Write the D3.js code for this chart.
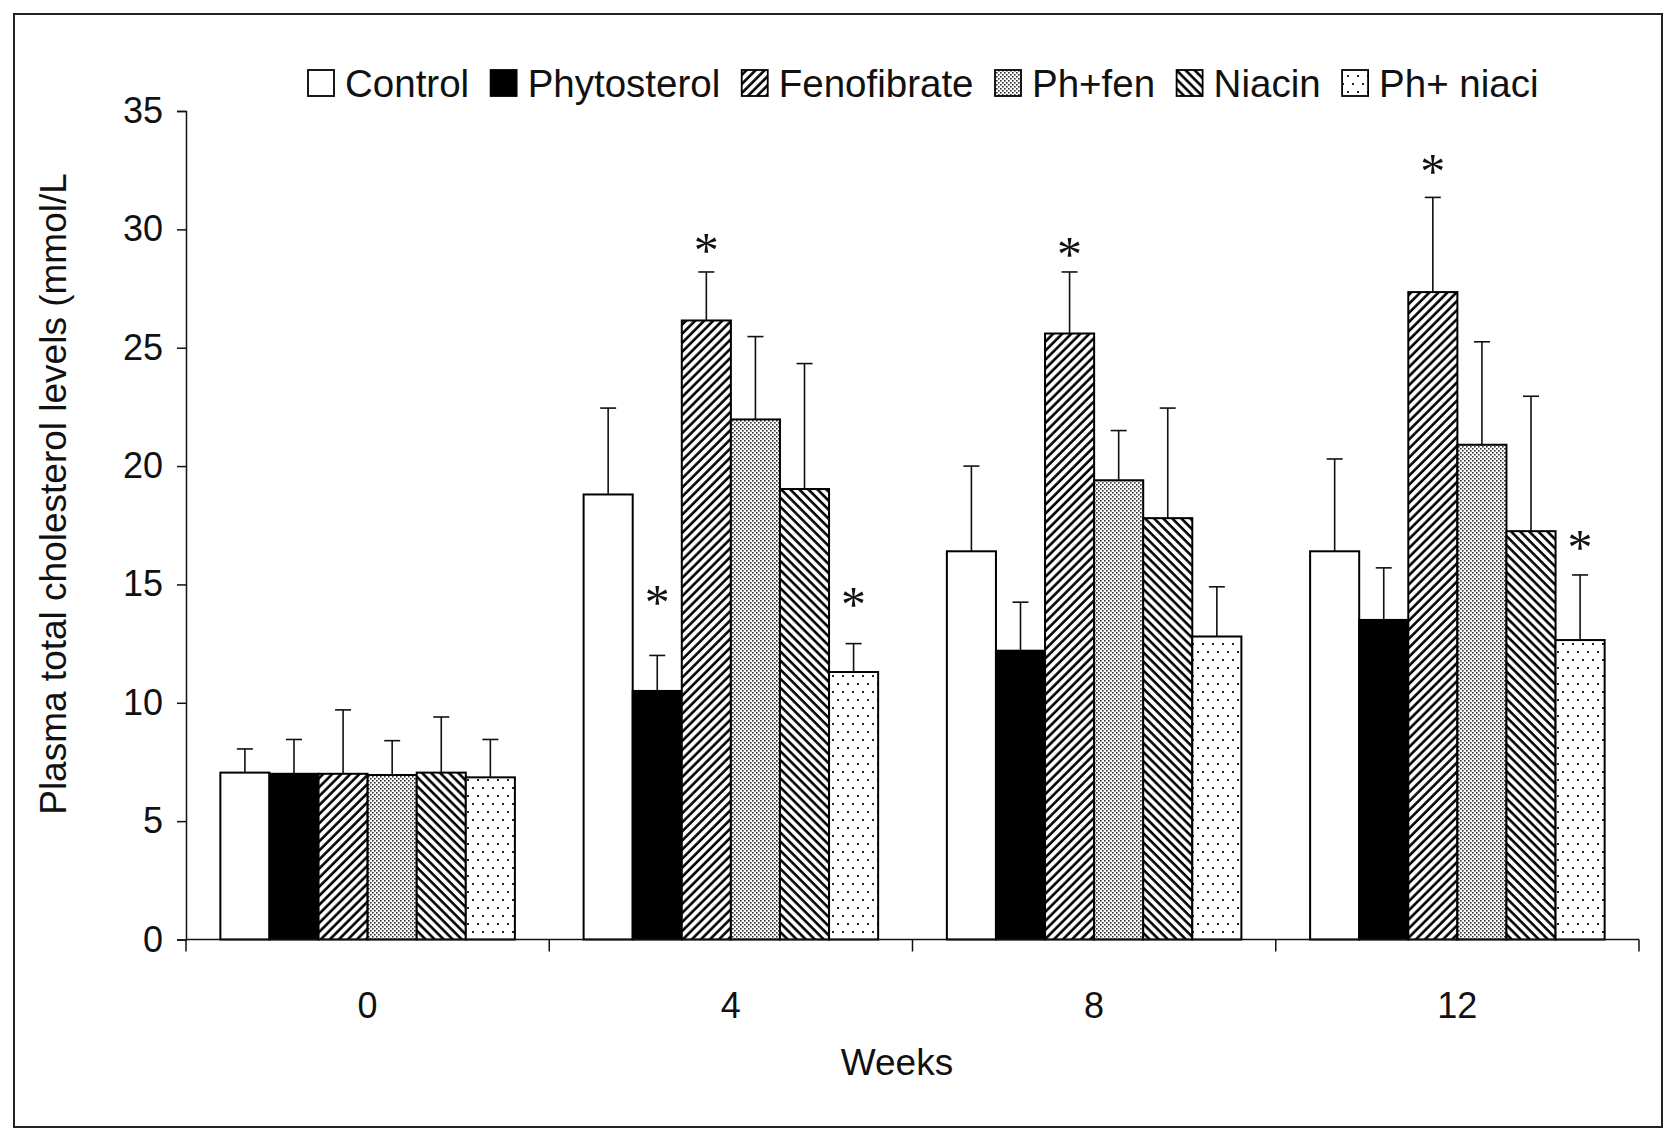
<!DOCTYPE html>
<html>
<head>
<meta charset="utf-8">
<script src="https://cdn.jsdelivr.net/npm/d3@7"></script>
<style>
  body { margin: 0; background: #fff; }
  text { font-family: "Liberation Sans", Arial, sans-serif; fill: #111; }
</style>
</head>
<body>
<div id="content"></div>
<script>
// weeks on the x axis and the six treatment groups
const weeks = ["0", "4", "8", "12"];
const groups = ["Control", "Phytosterol", "Fenofibrate", "Ph+fen", "Niacin", "Ph+ niaci"];

// mean plasma total cholesterol (mmol/L) per week, one array per group
const control     = [7.05, 18.8, 16.4, 16.4];
const phytosterol = [7.0, 10.5, 12.2, 13.5];
const fenofibrate = [7.0, 26.15, 25.6, 27.35];
const phFen       = [6.95, 21.97, 19.4, 20.9];
const niacin      = [7.05, 19.03, 17.8, 17.25];
const phNiaci     = [6.85, 11.3, 12.8, 12.65];

// upper error bar length (SD)
const controlSd     = [1.0, 3.65, 3.6, 3.9];
const phytosterolSd = [1.45, 1.5, 2.05, 2.2];
const fenofibrateSd = [2.7, 2.05, 2.6, 4.0];
const phFenSd       = [1.45, 3.5, 2.1, 4.35];
const niacinSd      = [2.35, 5.3, 4.65, 5.7];
const phNiaciSd     = [1.6, 1.2, 2.1, 2.75];

// significance marks: week, group, value where the star sits
const starWeeks  = ["4", "4", "4", "8", "12", "12"];
const starGroups = ["Phytosterol", "Fenofibrate", "Ph+ niaci", "Fenofibrate", "Fenofibrate", "Ph+ niaci"];
const starValues = [14.6, 29.45, 14.5, 29.3, 32.8, 16.9];

const yTicks = [0, 5, 10, 15, 20, 25, 30, 35];

const means = [control, phytosterol, fenofibrate, phFen, niacin, phNiaci];
const sds = [controlSd, phytosterolSd, fenofibrateSd, phFenSd, niacinSd, phNiaciSd];

let data = [];
weeks.forEach(function(w, i) {
    groups.forEach(function(g, j) {
        data.push({week: w, group: g, value: means[j][i], sd: sds[j][i]});
    });
});

const W = 1674, H = 1136;
const plotLeft = 186, plotRight = 1639, plotTop = 111, plotBottom = 939.5;

const svg = d3.select("#content")
    .append("svg")
    .attr("width", W)
    .attr("height", H);

// patterns for the bar fills
const defs = svg.append("defs");

function stripes(id, angle) {
    let p = defs.append("pattern")
        .attr("id", id)
        .attr("patternUnits", "userSpaceOnUse")
        .attr("width", 6.4)
        .attr("height", 10)
        .attr("patternTransform", "rotate(" + angle + ")");
    p.append("rect").attr("width", 6.4).attr("height", 10).attr("fill", "#fff");
    p.append("line")
        .attr("x1", 1.5).attr("y1", 0)
        .attr("x2", 1.5).attr("y2", 10)
        .attr("stroke", "#000")
        .attr("stroke-width", 2.6);
}
stripes("pat-feno", 45);
stripes("pat-niacin", -45);

let dense = defs.append("pattern")
    .attr("id", "pat-phfen")
    .attr("patternUnits", "userSpaceOnUse")
    .attr("width", 4).attr("height", 4);
dense.append("rect").attr("width", 4).attr("height", 4).attr("fill", "#fff");
dense.append("rect").attr("x", 0).attr("y", 0).attr("width", 1.6).attr("height", 1.6).attr("fill", "#333");
dense.append("rect").attr("x", 2).attr("y", 2).attr("width", 1.6).attr("height", 1.6).attr("fill", "#333");

let sparse = defs.append("pattern")
    .attr("id", "pat-phniaci")
    .attr("patternUnits", "userSpaceOnUse")
    .attr("width", 10).attr("height", 16);
sparse.append("rect").attr("width", 10).attr("height", 16).attr("fill", "#fff");
sparse.append("rect").attr("x", 2).attr("y", 3).attr("width", 2).attr("height", 2).attr("fill", "#222");
sparse.append("rect").attr("x", 7).attr("y", 11).attr("width", 2).attr("height", 2).attr("fill", "#222");

const fills = d3.scaleOrdinal()
    .domain(groups)
    .range(["#fff", "#000", "url(#pat-feno)", "url(#pat-phfen)", "url(#pat-niacin)", "url(#pat-phniaci)"]);

// outer frame
svg.append("rect")
    .attr("x", 14).attr("y", 14)
    .attr("width", 1648).attr("height", 1113)
    .attr("fill", "none")
    .attr("stroke", "#222")
    .attr("stroke-width", 2);

// scales
let x0 = d3.scaleBand()
    .domain(weeks)
    .range([plotLeft, plotRight])
    .padding(0);

let x1 = d3.scaleBand()
    .domain(groups)
    .range([0, x0.bandwidth()])
    .paddingInner(0)
    .paddingOuter(0.7);

let y = d3.scaleLinear()
    .domain([0, 35])
    .range([plotBottom, plotTop]);

// y axis
let yAxis = d3.axisLeft(y)
    .tickValues(yTicks)
    .tickSize(9)
    .tickPadding(14)
    .tickFormat(d3.format("d"));

let gy = svg.append("g")
    .attr("transform", "translate(" + plotLeft + ",0)")
    .call(yAxis);
gy.select(".domain").attr("stroke", "#111").attr("stroke-width", 1.5);
gy.selectAll(".tick line").attr("stroke", "#111").attr("stroke-width", 1.5);
gy.selectAll(".tick text")
    .style("font-size", "36px")
    .style("font-family", "'Liberation Sans', Arial, sans-serif")
    .attr("fill", "#111");

// bars
let bars = svg.append("g");
bars.selectAll("rect")
    .data(data)
    .join("rect")
    .attr("x", d => x0(d.week) + x1(d.group))
    .attr("y", d => y(d.value))
    .attr("width", x1.bandwidth())
    .attr("height", d => y(0) - y(d.value))
    .attr("fill", d => fills(d.group))
    .attr("stroke", "#000")
    .attr("stroke-width", 2);

// upper error bars
let errs = svg.append("g")
    .attr("stroke", "#111")
    .attr("stroke-width", 1.6);
errs.selectAll(".err")
    .data(data)
    .join("line")
    .attr("class", "err")
    .attr("x1", d => x0(d.week) + x1(d.group) + x1.bandwidth() / 2)
    .attr("x2", d => x0(d.week) + x1(d.group) + x1.bandwidth() / 2)
    .attr("y1", d => y(d.value))
    .attr("y2", d => y(d.value + d.sd));
errs.selectAll(".cap")
    .data(data)
    .join("line")
    .attr("class", "cap")
    .attr("x1", d => x0(d.week) + x1(d.group) + x1.bandwidth() / 2 - 8)
    .attr("x2", d => x0(d.week) + x1(d.group) + x1.bandwidth() / 2 + 8)
    .attr("y1", d => y(d.value + d.sd))
    .attr("y2", d => y(d.value + d.sd));

// x axis line, boundary ticks and week labels
let gx = svg.append("g");
gx.append("line")
    .attr("x1", plotLeft).attr("x2", plotRight)
    .attr("y1", y(0)).attr("y2", y(0))
    .attr("stroke", "#111")
    .attr("stroke-width", 1.5);
let bounds = weeks.map(w => x0(w)).concat([x0(weeks[weeks.length - 1]) + x0.bandwidth()]);
gx.selectAll(".xt")
    .data(bounds)
    .join("line")
    .attr("class", "xt")
    .attr("x1", d => d).attr("x2", d => d)
    .attr("y1", y(0)).attr("y2", y(0) + 12)
    .attr("stroke", "#111")
    .attr("stroke-width", 1.5);
gx.selectAll(".xl")
    .data(weeks)
    .join("text")
    .attr("class", "xl")
    .attr("x", d => x0(d) + x0.bandwidth() / 2)
    .attr("y", 1018)
    .attr("text-anchor", "middle")
    .style("font-size", "36px")
    .text(d => d);

// axis titles
svg.append("text")
    .attr("x", 897)
    .attr("y", 1075)
    .attr("text-anchor", "middle")
    .style("font-size", "37px")
    .text("Weeks");

svg.append("text")
    .attr("transform", "translate(66,494) rotate(-90)")
    .attr("text-anchor", "middle")
    .style("font-size", "37px")
    .text("Plasma total cholesterol levels (mmol/L");

// significance stars
let stars = starWeeks.map((w, i) => ({week: w, group: starGroups[i], value: starValues[i]}));
svg.append("g")
    .selectAll("text")
    .data(stars)
    .join("text")
    .attr("x", d => x0(d.week) + x1(d.group) + x1.bandwidth() / 2)
    .attr("y", d => y(d.value) + 25)
    .attr("text-anchor", "middle")
    .style("font-family", "'Liberation Serif', 'Times New Roman', serif")
    .style("font-size", "50px")
    .text("*");

// legend
let legend = svg.append("g");
let lx = 308;
const boxSize = 26, legendY = 70;
groups.forEach(function(g) {
    legend.append("rect")
        .attr("x", lx).attr("y", legendY)
        .attr("width", boxSize).attr("height", boxSize)
        .attr("fill", fills(g))
        .attr("stroke", "#000")
        .attr("stroke-width", 1.8);
    let t = legend.append("text")
        .attr("x", lx + boxSize + 11)
        .attr("y", legendY + boxSize + 1)
        .style("font-size", "38.5px")
        .text(g);
    lx += boxSize + 11 + t.node().getComputedTextLength() + 21.5;
});
</script>
</body>
</html>
